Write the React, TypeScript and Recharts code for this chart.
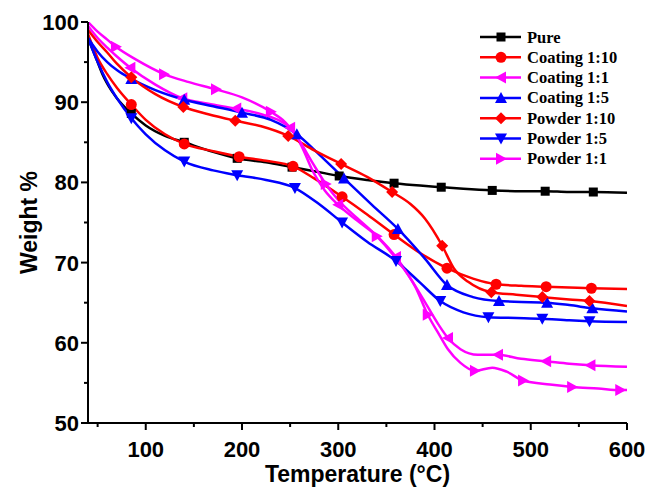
import React from "react";
import { LineChart, Line, XAxis, YAxis, Label } from "recharts";

// TGA curves, temperature (°C) vs weight %
const pureX = [40, 45, 50, 55, 60, 70, 85, 100, 120, 140, 170, 195, 225, 252, 275, 301, 330, 358, 385, 407, 430, 460, 490, 515, 540, 565, 600];
const pureY = [98, 96.5, 95, 93.5, 92.3, 90.5, 88.6, 87.1, 85.8, 85.0, 83.8, 83.0, 82.5, 81.9, 81.4, 80.8, 80.3, 79.9, 79.6, 79.4, 79.2, 79.0, 78.9, 78.9, 78.8, 78.8, 78.7];
const pureMarks = [85, 140, 195, 252, 301, 358, 407, 460, 515, 565];

const coat10X = [40, 50, 60, 70, 85, 100, 120, 140, 170, 197, 225, 253, 275, 304, 330, 358, 385, 413, 440, 464, 490, 516, 540, 563, 600];
const coat10Y = [98.5, 95.5, 93.5, 91.8, 89.7, 87.8, 86.0, 84.8, 83.9, 83.2, 82.7, 82.0, 80.5, 78.2, 76.0, 73.5, 71.2, 69.3, 68.0, 67.3, 67.1, 67.0, 66.9, 66.8, 66.7];
const coat10Marks = [85, 140, 197, 253, 304, 358, 413, 464, 516, 563];

const coat1X = [40, 50, 60, 70, 84, 110, 138, 165, 194, 220, 250, 262, 274, 286, 300, 320, 343, 360, 387, 404, 414, 427, 445, 466, 490, 516, 540, 562, 600];
const coat1Y = [99.5, 98, 96.8, 95.7, 94.3, 92.2, 90.5, 89.8, 89.2, 88.5, 86.8, 84.5, 81.3, 79.0, 77.2, 75.2, 73.0, 70.7, 65.7, 62.3, 60.6, 59.2, 58.5, 58.5, 58.0, 57.7, 57.4, 57.2, 57.0];
const coat1Marks = [84, 138, 194, 250, 300, 360, 414, 466, 516, 562];

const coat5X = [40, 50, 60, 70, 85, 110, 140, 170, 200, 230, 257, 280, 306, 335, 362, 390, 413, 440, 467, 490, 517, 540, 564, 600];
const coat5Y = [98, 96.3, 95.0, 94.0, 92.9, 91.5, 90.3, 89.5, 88.7, 87.8, 86.0, 83.5, 80.5, 77.2, 74.2, 70.5, 67.2, 65.7, 65.2, 65.1, 65.0, 64.7, 64.3, 63.9];
const coat5Marks = [85, 140, 200, 257, 306, 362, 413, 467, 517, 564];

const pow10X = [40, 50, 60, 70, 85, 110, 139, 165, 193, 220, 248, 275, 303, 330, 356, 375, 390, 408, 420, 435, 459, 485, 512, 540, 561, 600];
const pow10Y = [99, 97.5, 96.2, 94.8, 93.1, 91.0, 89.4, 88.5, 87.7, 87.0, 85.8, 84.0, 82.3, 80.7, 78.8, 77.3, 75.5, 72.1, 69.3, 67.6, 66.3, 66.0, 65.7, 65.4, 65.2, 64.6];
const pow10Marks = [85, 139, 193, 248, 303, 356, 408, 459, 512, 561];

const pow5X = [40, 50, 60, 70, 85, 100, 120, 140, 170, 195, 225, 255, 280, 304, 330, 360, 385, 406, 430, 456, 485, 512, 540, 561, 600];
const pow5Y = [98, 95, 92.5, 90.5, 88.0, 86.0, 84.0, 82.6, 81.5, 80.9, 80.3, 79.3, 77.3, 75.0, 72.6, 70.2, 67.5, 65.2, 63.8, 63.2, 63.1, 63.0, 62.8, 62.7, 62.6];
const pow5Marks = [85, 140, 195, 255, 304, 360, 406, 456, 512, 561];

const pow1X = [40, 50, 60, 69, 90, 119, 145, 173, 200, 230, 245, 258, 273, 287, 300, 320, 340, 360, 380, 393, 405, 414, 427, 442, 460, 475, 492, 520, 543, 570, 593, 600];
const pow1Y = [100, 98.8, 97.8, 96.9, 95.3, 93.5, 92.5, 91.6, 90.6, 88.8, 87.5, 85.5, 82.5, 79.8, 77.8, 75.5, 73.3, 70.5, 67.0, 63.5, 61.0, 59.2, 57.5, 56.5, 56.9, 56.4, 55.3, 54.8, 54.5, 54.3, 54.1, 54.1];
const pow1Marks = [69, 119, 173, 230, 287, 340, 393, 442, 492, 543, 593];

const xTicks = [50, 100, 150, 200, 250, 300, 350, 400, 450, 500, 550, 600];
const yTicks = [50, 55, 60, 65, 70, 75, 80, 85, 90, 95, 100];

const build = (xs: number[], ys: number[], marks: number[]) =>
  xs.map((t, i) => ({ t, w: ys[i], m: marks.includes(t) }));

const series = [
  { name: "Pure", color: "#000000", shape: "square", data: build(pureX, pureY, pureMarks) },
  { name: "Coating 1:10", color: "#ff0000", shape: "circle", data: build(coat10X, coat10Y, coat10Marks) },
  { name: "Coating 1:1", color: "#ff00ff", shape: "left", data: build(coat1X, coat1Y, coat1Marks) },
  { name: "Coating 1:5", color: "#0000ff", shape: "up", data: build(coat5X, coat5Y, coat5Marks) },
  { name: "Powder 1:10", color: "#ff0000", shape: "diamond", data: build(pow10X, pow10Y, pow10Marks) },
  { name: "Powder 1:5", color: "#0000ff", shape: "down", data: build(pow5X, pow5Y, pow5Marks) },
  { name: "Powder 1:1", color: "#ff00ff", shape: "right", data: build(pow1X, pow1Y, pow1Marks) },
];

function marker(shape: string, cx: number, cy: number, color: string, key?: any) {
  const s = 6;
  switch (shape) {
    case "square":
      return <rect key={key} x={cx - 4.5} y={cy - 4.5} width={9} height={9} fill={color} />;
    case "circle":
      return <circle key={key} cx={cx} cy={cy} r={5.5} fill={color} />;
    case "diamond":
      return <polygon key={key} points={`${cx},${cy - s} ${cx + s},${cy} ${cx},${cy + s} ${cx - s},${cy}`} fill={color} />;
    case "up":
      return <polygon key={key} points={`${cx},${cy - s} ${cx + s},${cy + 5} ${cx - s},${cy + 5}`} fill={color} />;
    case "down":
      return <polygon key={key} points={`${cx},${cy + s} ${cx + s},${cy - 5} ${cx - s},${cy - 5}`} fill={color} />;
    case "left":
      return <polygon key={key} points={`${cx - s},${cy} ${cx + 5},${cy - s} ${cx + 5},${cy + s}`} fill={color} />;
    default:
      return <polygon key={key} points={`${cx + s},${cy} ${cx - 5},${cy - s} ${cx - 5},${cy + s}`} fill={color} />;
  }
}

const tickFont = { fontFamily: "Liberation Sans, Arial, sans-serif", fontWeight: 700, fontSize: 22, fill: "#000" };

const XTick = (props: any) => {
  const { x, y, payload } = props;
  const major = payload.value % 100 === 0;
  return (
    <g>
      <line x1={x} x2={x} y1={y} y2={y + (major ? 7 : 4)} stroke="#000" strokeWidth={2} />
      {major && (
        <text x={x} y={y + 34} textAnchor="middle" {...tickFont}>
          {payload.value}
        </text>
      )}
    </g>
  );
};

const YTick = (props: any) => {
  const { x, y, payload } = props;
  const major = payload.value % 10 === 0;
  return (
    <g>
      <line x1={x - (major ? 7 : 4)} x2={x} y1={y} y2={y} stroke="#000" strokeWidth={2} />
      {major && (
        <text x={x - 9} y={y + 8} textAnchor="end" {...tickFont}>
          {payload.value}
        </text>
      )}
    </g>
  );
};

function LegendBox() {
  return (
    <svg width={180} height={160} style={{ position: "absolute", left: 470, top: 22 }}>
      {series.map((s, i) => {
        const cy = 15 + i * 20.3;
        return (
          <g key={s.name}>
            <line x1={10} x2={51} y1={cy} y2={cy} stroke={s.color} strokeWidth={2.5} />
            {marker(s.shape, 31, cy, s.color)}
            <text
              x={57}
              y={cy + 5.5}
              fontFamily="Liberation Serif, Times New Roman, serif"
              fontWeight={700}
              fontSize={16.5}
              fill="#000"
            >
              {s.name}
            </text>
          </g>
        );
      })}
    </svg>
  );
}

export default function App() {
  return (
    <div style={{ position: "absolute", left: 0, top: 0, width: 651, height: 493, background: "#fff" }}>
      <LineChart width={651} height={493} margin={{ top: 22, right: 24, bottom: 0, left: 0 }}>
        <XAxis
          dataKey="t"
          type="number"
          domain={[40, 600]}
          ticks={xTicks}
          allowDataOverflow
          height={70}
          tickSize={0}
          tickMargin={0}
          tickLine={false}
          tick={<XTick />}
          axisLine={{ stroke: "#000", strokeWidth: 2 }}
        >
          <Label
            value="Temperature (°C)"
            position="insideBottom"
            offset={11}
            style={{ fontFamily: "Liberation Sans, Arial, sans-serif", fontWeight: 700, fontSize: 23, fill: "#000" }}
          />
        </XAxis>
        <XAxis
          xAxisId="top"
          dataKey="t"
          type="number"
          domain={[40, 600]}
          orientation="top"
          height={0}
          tick={false}
          tickLine={false}
          axisLine={{ stroke: "#000", strokeWidth: 2 }}
        />
        <YAxis
          type="number"
          domain={[50, 100]}
          ticks={yTicks}
          allowDataOverflow
          width={88}
          tickSize={0}
          tickMargin={0}
          tickLine={false}
          tick={<YTick />}
          axisLine={{ stroke: "#000", strokeWidth: 2 }}
        >
          <Label
            value="Weight %"
            angle={-90}
            position="insideLeft"
            offset={29}
            style={{ textAnchor: "middle", fontFamily: "Liberation Sans, Arial, sans-serif", fontWeight: 700, fontSize: 23, fill: "#000" }}
          />
        </YAxis>
        <YAxis
          yAxisId="r"
          orientation="right"
          type="number"
          domain={[50, 100]}
          width={0}
          tick={false}
          tickLine={false}
          axisLine={{ stroke: "#000", strokeWidth: 2 }}
        />
        {series.map((s) => (
          <Line
            key={s.name}
            data={s.data}
            dataKey="w"
            name={s.name}
            type="monotone"
            stroke={s.color}
            strokeWidth={2.5}
            isAnimationActive={false}
            activeDot={false}
            dot={(p: any) =>
              p.payload.m ? marker(s.shape, p.cx, p.cy, s.color, p.index) : <g key={p.index} />
            }
          />
        ))}
      </LineChart>
      <LegendBox />
    </div>
  );
}
